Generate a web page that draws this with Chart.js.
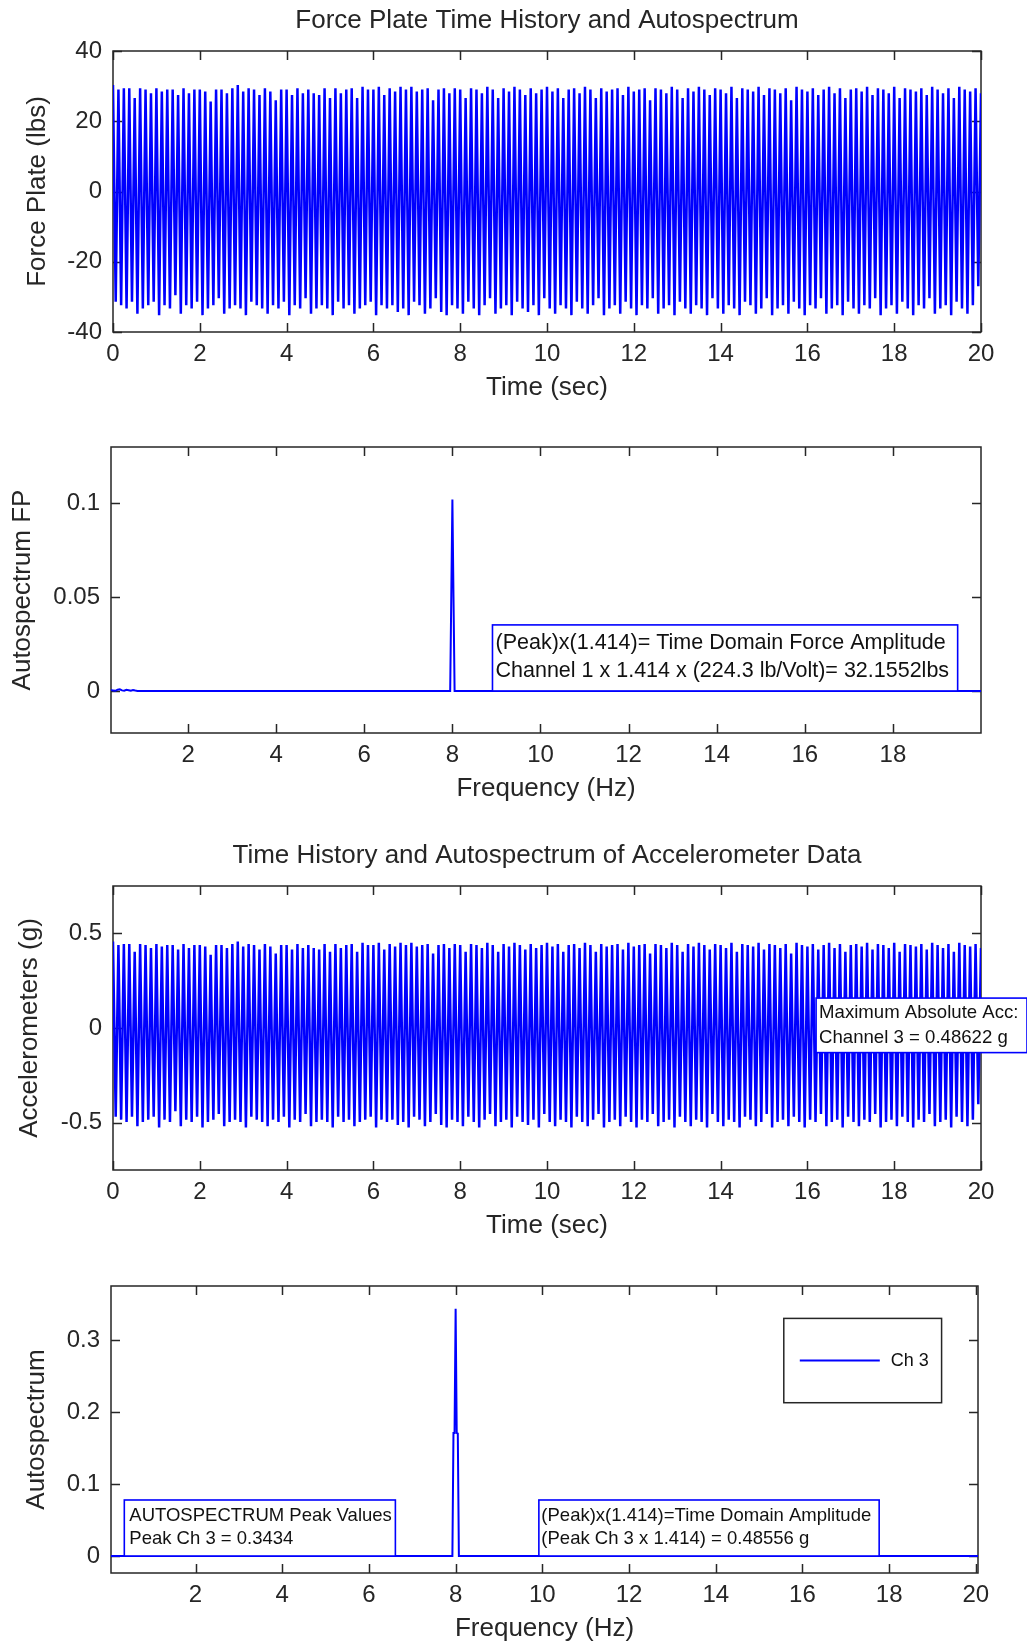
<!DOCTYPE html>
<html><head><meta charset="utf-8">
<script src="https://cdn.jsdelivr.net/npm/chart.js@4.4.1/dist/chart.umd.min.js"></script>
<style>
html,body{margin:0;padding:0;background:#fff;}
#wrap{position:relative;width:1027px;height:1646px;overflow:hidden;background:#fff;}
canvas{position:absolute;left:0;}
</style></head><body>
<div id="wrap">
<canvas id="c1" width="1027" height="410" style="top:0px"></canvas>
<canvas id="c2" width="1027" height="400" style="top:410px"></canvas>
<canvas id="c3" width="1027" height="440" style="top:810px"></canvas>
<canvas id="c4" width="1027" height="396" style="top:1250px"></canvas>
</div>
<script>
// ---------------- DATA ----------------
// time between successive extremes of the 8 Hz record (s)
const timeStep = 0.0625;

// Force plate: per-cycle maxima and minima (lbs)
const forceMax = [
30.3,29,29.4,29.4,26.6,29.4,29,28,29.4,28.5,
29,29,27.5,29.4,28,29,29,28.5,25.6,29,
29,28,29.4,30.3,28.5,29.4,29,27.5,29.4,28.5,
26,29,29,27.5,29.4,28,29,28,27.5,29.4,
26.6,29.4,28,29,29.4,26.6,29.8,29,29,29.8,
27.5,29.4,28.5,
29.8,29,29.8,28.5,29,29.4,26,29,29.4,28,
29.4,29,26.6,29.4,29,28,29.8,29,26.6,29.4,
28.5,29.8,29,27.5,29.4,28,29,29.8,28.5,29.4,
26.6,29,29.4,28,29.8,29,26.6,29.4,28.5,29,
29.4,27.5,29.8,28.5,29,29.4,26,29.4,29,28,
29.8,29,26.6,
29.4,28.5,29.8,29,27.5,29.4,29,28,29.8,26.6,
29.4,29,28.5,29.8,27.5,29.4,29,28,29.4,26,
29.8,29,28.5,29.4,27.5,29,29.8,28,29.4,26.6,
29,29.4,28.5,29.8,27.5,29.4,29,28,29.8,26.6,
29.4,29,28.5,29.4,27.5,29.8,29,28,29.4,26.6,
29.8,29,28.5,29.4,28];
const forceMin = [
-31.4,-32.4,-33.3,-31.4,-34.8,-33.3,-32.4,-31.4,-35.2,-32.4,
-33.3,-29.5,-34.8,-32.4,-33.3,-31.4,-35.2,-33.3,-32.4,-30.4,
-34.8,-33.3,-32.4,-33.3,-35.2,-31.4,-32.4,-33.3,-34.8,-32.4,
-33.3,-31.4,-35.2,-32.4,-33.3,-30.4,-34.8,-33.3,-32.4,-33.3,
-35.2,-31.4,-33.3,-32.4,-34.8,-33.3,-32.4,-31.4,-35.2,-32.4,
-33.3,-32.4,-34.3,
-33.3,-35.2,-31.4,-32.4,-34.8,-33.3,-30.4,-34.3,-35.2,-32.4,
-33.3,-34.8,-31.4,-33.3,-35.2,-32.4,-30.4,-34.8,-33.3,-32.4,
-35.2,-31.4,-33.3,-34.3,-32.4,-35.2,-30.4,-33.3,-34.8,-32.4,
-33.3,-35.2,-31.4,-33.3,-34.8,-32.4,-30.4,-35.2,-33.3,-32.4,
-34.8,-31.4,-33.3,-35.2,-32.4,-33.3,-30.4,-34.8,-33.3,-32.4,
-35.2,-31.4,-33.3,
-34.8,-32.4,-33.3,-35.2,-30.4,-33.3,-34.8,-32.4,-33.3,-35.2,
-31.4,-32.4,-34.8,-33.3,-30.4,-35.2,-33.3,-32.4,-34.8,-31.4,
-33.3,-35.2,-32.4,-33.3,-30.4,-34.8,-33.3,-32.4,-35.2,-31.4,
-33.3,-34.8,-32.4,-33.3,-30.4,-35.2,-33.3,-32.4,-34.8,-31.4,
-33.3,-35.2,-32.4,-33.3,-30.4,-34.8,-33.3,-32.4,-35.2,-31.4,
-33.3,-34.8,-32.4,-27.0];

// Accelerometer channel 3: per-cycle maxima and minima (g)
const accMax = [
.457,.438,.444,.444,.402,.444,.438,.423,.444,.430,
.438,.438,.415,.444,.423,.438,.438,.430,.387,.438,
.438,.423,.444,.457,.430,.444,.438,.415,.444,.430,
.393,.438,.438,.415,.444,.423,.438,.423,.415,.444,
.402,.444,.423,.438,.444,.402,.450,.438,.438,.450,
.415,.444,.430,
.450,.438,.450,.430,.438,.444,.393,.438,.444,.423,
.444,.438,.402,.444,.438,.423,.450,.438,.402,.444,
.430,.450,.438,.415,.444,.423,.438,.450,.430,.444,
.402,.438,.444,.423,.450,.438,.402,.444,.430,.438,
.444,.415,.450,.430,.438,.444,.393,.444,.438,.423,
.450,.438,.402,
.444,.430,.450,.438,.415,.444,.438,.423,.450,.402,
.444,.438,.430,.450,.415,.444,.438,.423,.444,.393,
.450,.438,.430,.444,.415,.438,.450,.423,.444,.402,
.438,.444,.430,.450,.415,.444,.438,.423,.450,.402,
.444,.438,.430,.444,.415,.450,.438,.423,.444,.402,
.450,.438,.430,.444,.423];
const accMin = [
-.469,-.484,-.497,-.469,-.519,-.497,-.484,-.469,-.525,-.484,
-.497,-.440,-.519,-.484,-.497,-.469,-.525,-.497,-.484,-.454,
-.519,-.497,-.484,-.497,-.525,-.469,-.484,-.497,-.519,-.484,
-.497,-.469,-.525,-.484,-.497,-.454,-.519,-.497,-.484,-.497,
-.525,-.469,-.497,-.484,-.519,-.497,-.484,-.469,-.525,-.484,
-.497,-.484,-.512,
-.497,-.525,-.469,-.484,-.519,-.497,-.454,-.512,-.525,-.484,
-.497,-.519,-.469,-.497,-.525,-.484,-.454,-.519,-.497,-.484,
-.525,-.469,-.497,-.512,-.484,-.525,-.454,-.497,-.519,-.484,
-.497,-.525,-.469,-.497,-.519,-.484,-.454,-.525,-.497,-.484,
-.519,-.469,-.497,-.525,-.484,-.497,-.454,-.519,-.497,-.484,
-.525,-.469,-.497,
-.519,-.484,-.497,-.525,-.454,-.497,-.519,-.484,-.497,-.525,
-.469,-.484,-.519,-.497,-.454,-.525,-.497,-.484,-.519,-.469,
-.497,-.525,-.484,-.497,-.454,-.519,-.497,-.484,-.525,-.469,
-.497,-.519,-.484,-.497,-.454,-.525,-.497,-.484,-.519,-.469,
-.497,-.525,-.484,-.497,-.454,-.519,-.497,-.484,-.525,-.469,
-.497,-.519,-.484,-.403];

// Autospectrum of force plate (Hz, value)
const fpFreq = [0.25,0.3,0.35,0.4,0.45,0.5,0.55,0.6,0.65,0.7,0.75,0.8,0.85,7.95,7.975,8.0,8.025,8.05,20.0];
const fpAuto = [0.0006,0.0002,0.0001,0.0007,0.0009,0.0003,0.0001,0.0006,0.0004,0.0001,0.0005,0.0002,0,0,0.051,0.102,0.050,0,0];

// Autospectrum of accelerometer channel 3 (Hz, value)
const ch3Freq = [0.05,7.925,7.95,7.975,8.0,8.025,8.05,8.075,20.05];
const ch3Auto = [0,0,0.171,0.171,0.3434,0.171,0.170,0,0];

// Tick values / labels
const timeTicks = [0,2,4,6,8,10,12,14,16,18,20];
const freqTicksFP = [2,4,6,8,10,12,14,16,18];
const freqTicksCh3 = [2,4,6,8,10,12,14,16,18,20];
const forceTicks = [-40,-20,0,20,40];
const fpTicks = [0,0.05,0.1];
const fpTickLabels = ['0','0.05','0.1'];
const accTicks = [-0.5,0,0.5];
const accTickLabels = ['-0.5','0','0.5'];
const ch3Ticks = [0,0.1,0.2,0.3];
const ch3TickLabels = ['0','0.1','0.2','0.3'];

// ---------------- HELPERS ----------------
const FONT = "'Liberation Sans', Arial, Helvetica, sans-serif";
const TXT = '#262626';
const BLUE = '#0000ff';

function interleave(maxs, mins) {
  const out = [];
  for (let i = 0; i < maxs.length; i++) { out.push(maxs[i]); if (i < mins.length) out.push(mins[i]); }
  return out;
}
function timeSeries(maxs, mins) {
  return interleave(maxs, mins).map((v, i) => ({x: i * timeStep, y: v}));
}
function xySeries(xs, ys) { return xs.map((x, i) => ({x: x, y: ys[i]})); }

const boxPlugin = {
  id: 'matlabBox',
  beforeDatasetsDraw(chart) {
    const {ctx, chartArea: a} = chart;
    const x = chart.scales.x, y = chart.scales.y;
    ctx.save();
    ctx.strokeStyle = '#262626';
    ctx.lineWidth = 1.5;
    ctx.strokeRect(a.left, a.top, a.right - a.left, a.bottom - a.top);
    const tl = 9;
    ctx.beginPath();
    x.ticks.forEach(t => {
      const px = Math.round(x.getPixelForValue(t.value)) + 0.5;
      ctx.moveTo(px, a.bottom); ctx.lineTo(px, a.bottom - tl);
      ctx.moveTo(px, a.top); ctx.lineTo(px, a.top + tl);
    });
    y.ticks.forEach(t => {
      const py = Math.round(y.getPixelForValue(t.value)) + 0.5;
      ctx.moveTo(a.left, py); ctx.lineTo(a.left + tl, py);
      ctx.moveTo(a.right, py); ctx.lineTo(a.right - tl, py);
    });
    ctx.stroke();
    ctx.restore();
  }
};

function annotPlugin(boxes, legend) {
  return {
    id: 'annot',
    afterDatasetsDraw(chart) {
      const {ctx} = chart;
      const x = chart.scales.x, y = chart.scales.y;
      ctx.save();
      boxes.forEach(b => {
        const l = x.getPixelForValue(b.x0), r = x.getPixelForValue(b.x1);
        const t = y.getPixelForValue(b.y1), bt = y.getPixelForValue(b.y0);
        ctx.fillStyle = '#fff';
        ctx.fillRect(l, t, r - l, bt - t);
        ctx.strokeStyle = BLUE; ctx.lineWidth = 1.6;
        ctx.strokeRect(l, t, r - l, bt - t);
        ctx.fillStyle = '#111';
        ctx.font = b.size + 'px ' + FONT;
        ctx.textAlign = 'left'; ctx.textBaseline = 'middle';
        b.lines.forEach((s, i) => ctx.fillText(s, l + b.pad, t + b.offs[i]));
      });
      if (legend) {
        const ds = chart.data.datasets[0];
        const l = x.getPixelForValue(legend.x0), r = x.getPixelForValue(legend.x1);
        const t = y.getPixelForValue(legend.y1), bt = y.getPixelForValue(legend.y0);
        ctx.fillStyle = '#fff'; ctx.fillRect(l, t, r - l, bt - t);
        ctx.strokeStyle = '#262626'; ctx.lineWidth = 1.5;
        ctx.strokeRect(l, t, r - l, bt - t);
        const my = (t + bt) / 2;
        ctx.strokeStyle = ds.borderColor; ctx.lineWidth = 2;
        ctx.beginPath(); ctx.moveTo(l + 16, my); ctx.lineTo(l + 96, my); ctx.stroke();
        ctx.fillStyle = '#111'; ctx.font = legend.size + 'px ' + FONT;
        ctx.textAlign = 'left'; ctx.textBaseline = 'middle';
        ctx.fillText(ds.label, l + 107, my);
      }
      ctx.restore();
    }
  };
}

function makePanel(id, p) {
  const H = p.H;
  const tickFont = {family: FONT, size: 24};
  const labFont = {family: FONT, size: 26};
  const plugins = [boxPlugin];
  if (p.annot) plugins.push(p.annot);
  return new Chart(document.getElementById(id), {
    type: 'line',
    data: {datasets: [{label: p.label, data: p.data, borderColor: BLUE, borderWidth: p.lw,
      pointRadius: 0, tension: 0, fill: false, borderJoinStyle: 'miter'}]},
    plugins: plugins,
    options: {
      responsive: false, animation: false, devicePixelRatio: 1,
      layout: {padding: {left: 0, right: 1027 - p.area.right, top: p.title ? 0 : p.area.top, bottom: 0}},
      plugins: {
        legend: {display: false}, tooltip: {enabled: false},
        title: p.title ? {display: true, text: p.title, color: TXT, fullSize: false,
          font: {family: FONT, size: 26, weight: 'normal'}, align: 'center',
          padding: {top: p.titleY - 15.6, bottom: p.area.top - (p.titleY - 15.6) - 31.2}} : {display: false}
      },
      scales: {
        x: {type: 'linear', min: p.xmin, max: p.xmax,
          grid: {display: false, drawTicks: false, tickLength: 0}, border: {display: false},
          afterBuildTicks: s => { s.ticks = p.xticks.map(v => ({value: v})); },
          afterFit: s => { s.height = H - p.area.bottom; },
          ticks: {autoSkip: false, maxRotation: 0, minRotation: 0, color: TXT, font: tickFont, padding: 7.6,
            callback: v => String(v)},
          title: {display: true, text: p.xlabel, color: TXT, font: labFont,
            padding: {top: 0, bottom: (H - p.area.bottom - 56) - 15.6}}
        },
        y: {type: 'linear', min: p.ymin, max: p.ymax,
          grid: {display: false, drawTicks: false, tickLength: 0}, border: {display: false},
          afterBuildTicks: s => { s.ticks = p.yticks.map(v => ({value: v})); },
          afterFit: s => { s.width = p.area.left; },
          ticks: {autoSkip: false, color: TXT, font: tickFont, padding: 11,
            callback: (v, i) => p.ylabels ? p.ylabels[p.yticks.indexOf(v)] : String(v)},
          title: {display: true, text: p.ylabel, color: TXT, font: labFont,
            padding: {top: p.ylabelX - 15.6, bottom: 0}}
        }
      }
    }
  });
}

// ---------------- PANELS ----------------
makePanel('c1', {
  H: 410, area: {left: 113, right: 981, top: 51, bottom: 332}, title: 'Force Plate Time History and Autospectrum', titleY: 21,
  data: timeSeries(forceMax, forceMin), label: 'Force Plate', lw: 2.5,
  xmin: 0, xmax: 20, xticks: timeTicks, xlabel: 'Time (sec)',
  ymin: -40, ymax: 40, yticks: forceTicks, ylabel: 'Force Plate (lbs)', ylabelX: 38
});

makePanel('c2', {
  H: 400, area: {left: 111, right: 981, top: 37, bottom: 323},
  data: xySeries(fpFreq, fpAuto), label: 'Ch 1', lw: 2,
  xmin: 0.25, xmax: 20, xticks: freqTicksFP, xlabel: 'Frequency (Hz)',
  ymin: -0.0224, ymax: 0.130, yticks: fpTicks, ylabels: fpTickLabels, ylabel: 'Autospectrum FP', ylabelX: 23,
  annot: annotPlugin([
    {x0: 8.91, x1: 19.47, y0: 0, y1: 0.0352, size: 21.5, pad: 3, offs: [18, 45.7],
     lines: ['(Peak)x(1.414)= Time Domain Force Amplitude', 'Channel 1 x 1.414 x (224.3 lb/Volt)= 32.1552lbs']}
  ])
});

makePanel('c3', {
  H: 440, area: {left: 113, right: 981, top: 76, bottom: 360}, title: 'Time History and Autospectrum of Accelerometer Data', titleY: 46,
  data: timeSeries(accMax, accMin), label: 'Ch 3', lw: 2.5,
  xmin: 0, xmax: 20, xticks: timeTicks, xlabel: 'Time (sec)',
  ymin: -0.75, ymax: 0.75, yticks: accTicks, ylabels: accTickLabels, ylabel: 'Accelerometers (g)', ylabelX: 30,
  annot: annotPlugin([
    {x0: 16.2, x1: 21.06, y0: -0.130, y1: 0.158, size: 18.6, pad: 3, offs: [14.7, 39.3],
     lines: ['Maximum Absolute Acc:', 'Channel 3 = 0.48622 g']}
  ])
});

makePanel('c4', {
  H: 396, area: {left: 111, right: 978, top: 36, bottom: 323},
  data: xySeries(ch3Freq, ch3Auto), label: 'Ch 3', lw: 2,
  xmin: 0.05, xmax: 20.05, xticks: freqTicksCh3, xlabel: 'Frequency (Hz)',
  ymin: -0.0236, ymax: 0.375, yticks: ch3Ticks, ylabels: ch3TickLabels, ylabel: 'Autospectrum', ylabelX: 37,
  annot: annotPlugin([
    {x0: 0.357, x1: 6.61, y0: 0, y1: 0.0778, size: 18.5, pad: 5, offs: [15.7, 39.3],
     lines: ['AUTOSPECTRUM Peak Values', 'Peak Ch 3 = 0.3434']},
    {x0: 9.92, x1: 17.77, y0: 0, y1: 0.0778, size: 18.5, pad: 2.5, offs: [15.7, 39.3],
     lines: ['(Peak)x(1.414)=Time Domain Amplitude', '(Peak Ch 3 x 1.414) = 0.48556 g']}
  ], {x0: 15.57, x1: 19.21, y0: 0.2129, y1: 0.330, size: 18})
});
</script>
</body></html>
